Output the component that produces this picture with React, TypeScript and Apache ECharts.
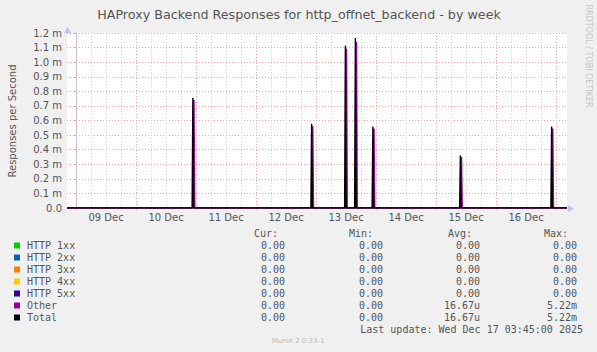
import React, { useEffect, useRef } from 'react';
import * as echarts from 'echarts';

const TITLE = 'HAProxy Backend Responses for http_offnet_backend - by week';
const Y_NAME = 'Responses per Second';
const ORIGIN = '2025-12-09 00:00';
const RANGE_START = '2025-12-08 20:24';
const RANGE_END = '2025-12-17 04:24';
const DAY_LABELS = ['09 Dec', '10 Dec', '11 Dec', '12 Dec', '13 Dec', '14 Dec', '15 Dec', '16 Dec'];

// spikes (milli responses per second)
const TOTAL_TIMES = [
  '2025-12-10 22:45',
  '2025-12-12 22:15',
  '2025-12-13 11:45',
  '2025-12-13 15:45',
  '2025-12-13 22:45',
  '2025-12-15 09:45',
  '2025-12-16 22:15',
];
const TOTAL_PEAKS = [0.755, 0.577, 1.113, 1.166, 0.558, 0.36, 0.558];
const OTHER_TIMES = [
  '2025-12-10 23:10',
  '2025-12-12 22:40',
  '2025-12-13 12:10',
  '2025-12-13 16:10',
  '2025-12-13 23:10',
  '2025-12-15 10:10',
  '2025-12-16 22:40',
];
const OTHER_PEAKS = [0.74, 0.56, 1.09, 1.14, 0.545, 0.35, 0.545];

const SERIES_NAMES = ['HTTP 1xx', 'HTTP 2xx', 'HTTP 3xx', 'HTTP 4xx', 'HTTP 5xx', 'Other', 'Total'];
const SERIES_COLORS = ['#00cc00', '#0066b3', '#ff8000', '#ffcc00', '#330099', '#990099', '#000000'];
const CUR = ['0.00', '0.00', '0.00', '0.00', '0.00', '0.00', '0.00'];
const MIN = ['0.00', '0.00', '0.00', '0.00', '0.00', '0.00', '0.00'];
const AVG = ['0.00', '0.00', '0.00', '0.00', '0.00', '16.67u', '16.67u'];
const MAX = ['0.00', '0.00', '0.00', '0.00', '0.00', '5.22m', '5.22m'];
const LAST_UPDATE = 'Last update: Wed Dec 17 03:45:00 2025';
const MUNIN = 'Munin 2.0.33-1';
const RRD = 'RRDTOOL / TOBI OETIKER';

function toMs(s: string) {
  const [d, t] = s.split(' ');
  const [Y, M, D] = d.split('-').map(Number);
  const [h, m] = t.split(':').map(Number);
  return Date.UTC(Y, M - 1, D, h, m);
}
const hoursOf = (s: string) => (toMs(s) - toMs(ORIGIN)) / 3600000;

const X_MIN = hoursOf(RANGE_START);
const X_MAX = hoursOf(RANGE_END);

function spikeData(times: string[], peaks: number[]) {
  const out: number[][] = [[X_MIN, 0]];
  times.forEach((t, i) => {
    const h = hoursOf(t);
    out.push([h - 0.3, 0], [h, peaks[i]], [h + 0.3, 0]);
  });
  out.push([X_MAX, 0]);
  return out;
}

export default function App() {
  const ref = useRef<HTMLDivElement>(null);
  useEffect(() => {
    if (!ref.current) return;
    const chart = echarts.init(ref.current, null, { renderer: 'svg' });

    const dayBounds: number[] = [];
    for (let i = 0; i <= DAY_LABELS.length; i++) dayBounds.push(i * 24);
    const noons = DAY_LABELS.map((_, i) => i * 24 + 12);
    const gridLines: any[] = [];
    for (let h = 0; h <= X_MAX; h += 6) {
      const major = h % 24 === 0;
      gridLines.push({
        xAxis: h,
        lineStyle: { color: major ? '#f3a3a3' : '#d4d4d4', type: [1, 2], width: 1 },
      });
    }

    const series: any[] = SERIES_NAMES.map((name, i) => {
      let data: number[][];
      if (name === 'Total') data = spikeData(TOTAL_TIMES, TOTAL_PEAKS);
      else if (name === 'Other') data = spikeData(OTHER_TIMES, OTHER_PEAKS);
      else data = [[X_MIN, 0], [X_MAX, 0]];
      const s: any = {
        type: 'line',
        name,
        data,
        symbol: 'none',
        lineStyle: { color: SERIES_COLORS[i], width: name === 'Other' ? 1.6 : name === 'Total' ? 1.4 : 1 },
        itemStyle: { color: SERIES_COLORS[i] },
        z: 3,
        silent: true,
      };
      if (i === 0) {
        s.markLine = { silent: true, symbol: 'none', label: { show: false }, z: 1, data: gridLines };
      }
      return s;
    });

    const mono = '10px "DejaVu Sans Mono"';
    const txtColor = '#555';
    const arrowColor = '#c0c0ff';
    const graphics: any[] = [
      {
        type: 'text', x: 299, y: 14,
        style: { text: TITLE, fill: '#555', font: '12.7px "DejaVu Sans"', align: 'center', verticalAlign: 'middle' },
      },
      {
        type: 'text', x: 12, y: 121, rotation: Math.PI / 2,
        style: { text: Y_NAME, fill: '#555', font: '10px "DejaVu Sans"', align: 'center', verticalAlign: 'middle' },
      },
      {
        type: 'text', x: 588, y: 56, rotation: -Math.PI / 2,
        style: { text: RRD, fill: '#c4c4c4', font: '8px "DejaVu Sans"', align: 'center', verticalAlign: 'middle' },
      },
      {
        type: 'text', x: 298, y: 341,
        style: { text: MUNIN, fill: '#bbbbbb', font: '7px "DejaVu Sans"', align: 'center', verticalAlign: 'middle' },
      },
      // axis arrow heads
      { type: 'polygon', shape: { points: [[568, 205], [574, 208.5], [568, 212]] }, style: { fill: arrowColor }, z: 10 },
      { type: 'polygon', shape: { points: [[64, 33], [67.5, 27], [71, 33]] }, style: { fill: arrowColor }, z: 10 },
    ];
    const headers = [['Cur:', 278], ['Min:', 373], ['Avg:', 472], ['Max:', 568]] as const;
    headers.forEach(([t, x]) =>
      graphics.push({ type: 'text', x, y: 233, style: { text: t, fill: txtColor, font: mono, align: 'right', verticalAlign: 'middle' } })
    );
    const cols = [CUR, MIN, AVG, MAX];
    const colRight = [285, 383, 480, 577];
    SERIES_NAMES.forEach((name, i) => {
      const y = 245.5 + i * 12;
      graphics.push({ type: 'rect', shape: { x: 14, y: y - 3, width: 6, height: 6 }, style: { fill: SERIES_COLORS[i] } });
      graphics.push({ type: 'text', x: 27, y, style: { text: name, fill: txtColor, font: mono, align: 'left', verticalAlign: 'middle' } });
      cols.forEach((c, j) =>
        graphics.push({ type: 'text', x: colRight[j], y, style: { text: c[i], fill: txtColor, font: mono, align: 'right', verticalAlign: 'middle' } })
      );
    });
    graphics.push({ type: 'text', x: 583, y: 329.5, style: { text: LAST_UPDATE, fill: txtColor, font: mono, align: 'right', verticalAlign: 'middle' } });

    chart.setOption({
      animation: false,
      backgroundColor: '#f0f0f0',
      grid: { left: 67, right: 30, top: 33, height: 175, show: true, backgroundColor: '#ffffff', borderWidth: 0 },
      xAxis: {
        type: 'value',
        min: X_MIN,
        max: X_MAX,
        axisLine: { show: true, onZero: false, lineStyle: { color: '#b8b8f0', width: 1 } },
        axisTick: { show: true, customValues: dayBounds, length: 2, lineStyle: { color: '#f3a3a3' } },
        axisLabel: {
          show: true,
          customValues: noons,
          formatter: (v: number) => DAY_LABELS[Math.round((v - 12) / 24)] ?? '',
          color: '#555', fontSize: 10, fontFamily: 'DejaVu Sans', margin: 4,
        },
        splitLine: { show: false },
      },
      yAxis: {
        type: 'value',
        min: 0,
        max: 1.2,
        interval: 0.1,
        axisLine: { show: true, lineStyle: { color: '#c8c8f4', width: 1 } },
        axisTick: { show: true, length: 2, lineStyle: { color: '#d8b0b0' } },
        axisLabel: {
          formatter: (v: number) => (v === 0 ? '0.0' : v.toFixed(1) + ' m'),
          color: '#555', fontSize: 10, fontFamily: 'DejaVu Sans', margin: 5,
        },
        splitLine: { show: true, lineStyle: { color: '#f3a3a3', type: [1, 2], width: 1 } },
      },
      series,
      graphic: graphics,
    });
    return () => chart.dispose();
  }, []);
  return <div ref={ref} style={{ position: 'fixed', left: 0, top: 0, width: 597, height: 352 }} />;
}
